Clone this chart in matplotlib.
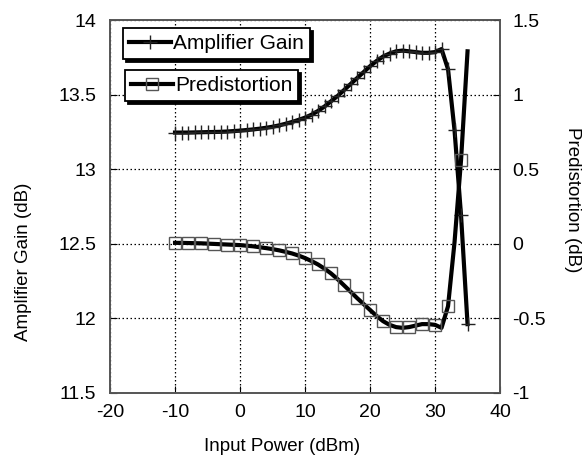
import matplotlib
matplotlib.use("Agg")
import matplotlib.pyplot as plt

# input power (dBm), one point per dB
pin = list(range(-10, 36))

# amplifier gain (dB), left axis
gain = [13.245, 13.245, 13.245, 13.246, 13.247, 13.248, 13.249, 13.250, 13.252, 13.255,
        13.258, 13.262, 13.266, 13.271, 13.277, 13.284, 13.293, 13.304, 13.316, 13.330,
        13.345, 13.365, 13.390, 13.420, 13.455, 13.490, 13.530, 13.570, 13.610, 13.650,
        13.690, 13.725, 13.755, 13.775, 13.790, 13.795, 13.790, 13.785, 13.780, 13.780,
        13.785, 13.805, 13.670, 13.260, 12.690, 11.960]

# predistortion (dB), right axis
predist = [0.005, 0.005, 0.004, 0.003, 0.002, 0.000, -0.002, -0.004, -0.006, -0.008,
           -0.010, -0.014, -0.018, -0.024, -0.030, -0.037, -0.045, -0.055, -0.066, -0.080,
           -0.097, -0.117, -0.140, -0.168, -0.200, -0.238, -0.280, -0.322, -0.365, -0.405,
           -0.445, -0.485, -0.520, -0.545, -0.560, -0.565, -0.560, -0.550, -0.540, -0.540,
           -0.545, -0.565, -0.420, 0.010, 0.560, 1.290]

plt.rcParams["font.family"] = ["Liberation Sans", "DejaVu Sans"]
plt.rcParams["axes.unicode_minus"] = False

fig = plt.figure(figsize=(5.83, 4.58), dpi=100)
ax = fig.add_axes([0.1887, 0.1426, 0.669, 0.8137])
ax2 = ax.twinx()

ax.plot(pin, gain, color="black", lw=3, marker="+", ms=10, mew=1.0,
        mec="#222222", label="Amplifier Gain", zorder=3)
ax2.plot(pin, predist, color="black", lw=3, marker="s", ms=9, mew=1.0,
         mec="#555555", mfc="none", markevery=list(range(0, 45, 2)),
         label="Predistortion", zorder=3)

ax.set_xlim(-20, 40)
ax.set_ylim(11.5, 14)
ax2.set_ylim(-1, 1.5)
ax.set_xticks([-20, -10, 0, 10, 20, 30, 40])
ax.set_yticks([11.5, 12, 12.5, 13, 13.5, 14])
ax.set_yticklabels(["11.5", "12", "12.5", "13", "13.5", "14"])
ax2.set_yticks([-1, -0.5, 0, 0.5, 1, 1.5])
ax2.set_yticklabels(["-1", "-0.5", "0", "0.5", "1", "1.5"])

ax.grid(True, color="black", ls=(0, (1.2, 2)), lw=0.9)
ax.tick_params(axis="y", direction="in", length=5, labelsize=14, pad=10)
ax.tick_params(axis="x", direction="in", length=5, labelsize=14, pad=8)
ax2.tick_params(direction="in", length=5, labelsize=14, pad=9)
for a in (ax, ax2):
    for s in a.spines.values():
        s.set_color("#555555")
        s.set_linewidth(1.2)

ax.set_xlabel("Input Power (dBm)", fontsize=13.5)
ax.xaxis.set_label_coords(0.44, -0.122)
ax.set_ylabel("Amplifier Gain (dB)", fontsize=13.5)
ax.yaxis.set_label_coords(-0.2, 0.35)
ax2.set_ylabel("Predistortion (dB)", fontsize=13.5, rotation=-90, va="center")
ax2.yaxis.set_label_coords(1.187, 0.517)

shadow = {"color": "black", "alpha": 1}
leg1 = ax2.legend(handles=ax.get_lines(), loc="upper left",
                  bbox_to_anchor=(0.033, 0.979), fontsize=15, fancybox=False,
                  shadow=shadow, handlelength=2.0, handletextpad=0.1,
                  borderpad=0.3, framealpha=1, edgecolor="black", borderaxespad=0)
leg1.get_frame().set_linewidth(1.3)
ax2.add_artist(leg1)
leg2 = ax2.legend(handles=ax2.get_lines(), loc="upper left",
                  bbox_to_anchor=(0.038, 0.866), fontsize=15, fancybox=False,
                  shadow=shadow, handlelength=2.0, handletextpad=0.1,
                  borderpad=0.3, framealpha=1, edgecolor="black", borderaxespad=0,
                  markerscale=0.9)
leg2.get_frame().set_linewidth(1.3)

fig.savefig("out.png", dpi=100)
